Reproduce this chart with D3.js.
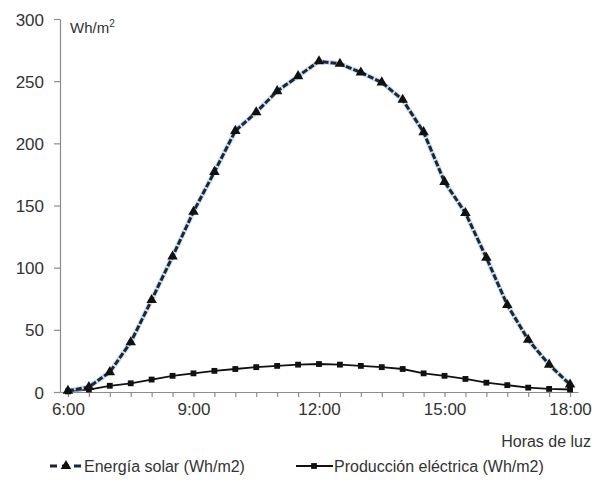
<!DOCTYPE html>
<html>
<head>
<meta charset="utf-8">
<script src="https://cdn.jsdelivr.net/npm/d3@7"></script>
<style>
  body { margin: 0; background: #fff; }
  text { font-family: "Liberation Sans", Arial, sans-serif; fill: #333; }
</style>
</head>
<body>
<div id="svgcontainer"></div>
<script>
// half-hour categories 6:00 .. 18:00
var horas = ["6:00","6:30","7:00","7:30","8:00","8:30","9:00","9:30","10:00","10:30",
  "11:00","11:30","12:00","12:30","13:00","13:30","14:00","14:30","15:00","15:30",
  "16:00","16:30","17:00","17:30","18:00"];
var etiquetasX = ["6:00","9:00","12:00","15:00","18:00"];
var ticksY = [0, 50, 100, 150, 200, 250, 300];

var energiaSolar = [1, 4, 16, 40, 74, 109, 145, 177, 210, 225, 242, 254, 266, 264, 257,
  249, 235, 209, 169, 144, 108, 70, 42, 22, 6];
var produccion = [0.5, 2, 5, 7, 10, 13, 15, 17, 18.5, 20, 21, 22, 22.5, 22, 21, 20,
  18.5, 15, 13, 10.5, 7.5, 5.5, 3.5, 2.5, 2];

var svgWidth = 599;
var svgHeight = 486;

var svg = d3.select("#svgcontainer")
  .append("svg")
  .attr("width", svgWidth)
  .attr("height", svgHeight);

var xScale = d3.scalePoint()
  .domain(horas)
  .range([60, 578])
  .padding(0.38);

var yScale = d3.scaleLinear()
  .domain([0, 300])
  .range([392, 19]);

// x axis, a tick on every half hour, labels only every 3 h
var bottomAxis = d3.axisBottom(xScale)
  .tickSize(5)
  .tickSizeOuter(0)
  .tickFormat(d => etiquetasX.indexOf(d) >= 0 ? d : "");

var gx = svg.append("g")
  .attr("transform", "translate(0, 392)")
  .call(bottomAxis);
gx.selectAll("text")
  .attr("font-size", 17)
  .attr("dy", 0)
  .attr("y", 23)
  .attr("fill", "#333");

var leftAxis = d3.axisLeft(yScale)
  .tickValues(ticksY)
  .tickSize(6)
  .tickSizeOuter(0);

var gy = svg.append("g")
  .attr("transform", "translate(60, 0)")
  .call(leftAxis);
gy.selectAll("text")
  .attr("font-size", 17)
  .attr("x", -16)
  .attr("dy", "0.36em")
  .attr("fill", "#333");

svg.selectAll(".domain, .tick line")
  .attr("stroke", "#8c8c8c")
  .attr("stroke-width", 1.2);

// axis titles
var wh = svg.append("text")
  .attr("x", 70)
  .attr("y", 33)
  .attr("font-size", 15)
  .text("Wh/m");
wh.append("tspan")
  .attr("dy", -6)
  .attr("font-size", 10)
  .text("2");

svg.append("text")
  .attr("text-anchor", "end")
  .attr("x", 591)
  .attr("y", 447)
  .attr("font-size", 16)
  .text("Horas de luz");

var line = d3.line()
  .x((d, i) => xScale(horas[i]))
  .y(d => yScale(d));

// produccion electrica
svg.append("path")
  .datum(produccion)
  .attr("fill", "none")
  .attr("stroke", "#111")
  .attr("stroke-width", 1.8)
  .attr("d", line);

svg.selectAll(".pm")
  .data(produccion)
  .enter()
  .append("path")
  .attr("class", "pm")
  .attr("transform", (d, i) => `translate(${xScale(horas[i])}, ${yScale(d)})`)
  .attr("d", d3.symbol().type(d3.symbolSquare).size(34))
  .attr("fill", "#111");

// energia solar
svg.append("path")
  .datum(energiaSolar)
  .attr("fill", "none")
  .attr("stroke", "#9fc0e0")
  .attr("stroke-width", 5)
  .attr("stroke-opacity", 0.5)
  .attr("d", line);

svg.append("path")
  .datum(energiaSolar)
  .attr("fill", "none")
  .attr("stroke", "#1b2636")
  .attr("stroke-width", 3)
  .attr("stroke-dasharray", "6,2")
  .attr("d", line);

svg.selectAll(".sm")
  .data(energiaSolar)
  .enter()
  .append("path")
  .attr("class", "sm")
  .attr("transform", (d, i) => `translate(${xScale(horas[i])}, ${yScale(d)})`)
  .attr("d", d3.symbol().type(d3.symbolTriangle).size(48))
  .attr("fill", "#111");

// legend
var leg = svg.append("g").attr("transform", "translate(0, 466)");

leg.append("line")
  .attr("x1", 50).attr("x2", 82)
  .attr("stroke", "#1b2636")
  .attr("stroke-width", 3)
  .attr("stroke-dasharray", "7,5");
leg.append("path")
  .attr("transform", "translate(66, 0)")
  .attr("d", d3.symbol().type(d3.symbolTriangle).size(48))
  .attr("fill", "#111");
leg.append("text")
  .attr("x", 84)
  .attr("dy", "0.36em")
  .attr("font-size", 16)
  .text("Energía solar (Wh/m2)");

leg.append("line")
  .attr("x1", 296).attr("x2", 333)
  .attr("stroke", "#111")
  .attr("stroke-width", 1.8);
leg.append("path")
  .attr("transform", "translate(314, 0)")
  .attr("d", d3.symbol().type(d3.symbolSquare).size(34))
  .attr("fill", "#111");
leg.append("text")
  .attr("x", 334)
  .attr("dy", "0.36em")
  .attr("font-size", 16)
  .text("Producción eléctrica (Wh/m2)");
</script>
</body>
</html>
